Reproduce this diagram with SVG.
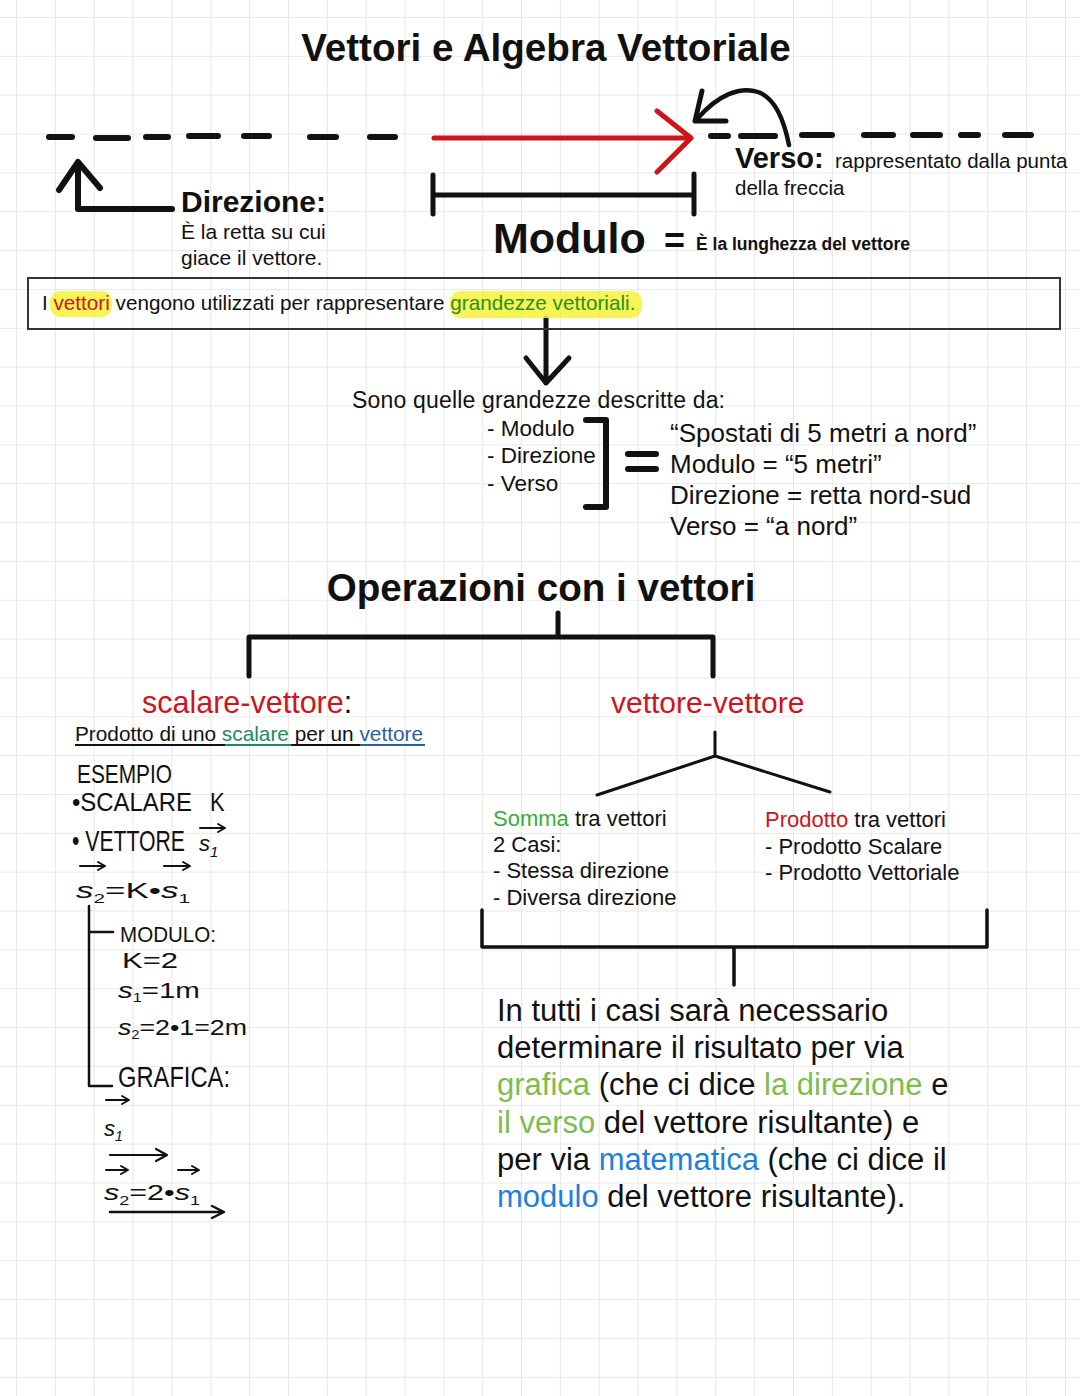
<svg xmlns="http://www.w3.org/2000/svg" width="1080" height="1396" viewBox="0 0 1080 1396">
<defs>
<pattern id="grid" x="16" y="17" width="38.85" height="38.85" patternUnits="userSpaceOnUse">
<path d="M0 0 H38.85 M0 0 V38.85" fill="none" stroke="#e2e2e2" stroke-width="1.6"/>
</pattern>
<style>
.t{font-family:"Liberation Sans",Arial,sans-serif;fill:#111}
.b{font-weight:bold}
.hw{font-family:"Liberation Sans",Arial,sans-serif;fill:#111;font-size:22px}
.k{fill:none;stroke:#111;stroke-linecap:round;stroke-linejoin:round}
.red{fill:#d0141c}
.grn{fill:#2f8f1f}
.lg{fill:#7cbd4d}
.blu{fill:#1f7fe0}
</style>
</defs>
<rect width="1080" height="1396" fill="#ffffff"/>
<rect width="1080" height="1396" fill="url(#grid)"/>

<g id="title">
<text class="t b" x="546" y="61" font-size="38.6" text-anchor="middle">Vettori e Algebra Vettoriale</text>
</g>

<g id="connectors">
<path class="k" stroke-width="6" d="M49 137H72 M96 138H128 M146 137H168 M189 136H218 M244 136H269 M310 137H336 M370 137H395"/>
<path class="k" stroke-width="6" d="M711 136H728 M741 136H775 M802 135H832 M864 135H893 M913 135H940 M961 135H978 M1005 135H1031"/>
<path fill="none" stroke="#d0141c" stroke-width="5" stroke-linecap="round" stroke-linejoin="round" d="M434 138H690 M657 111L691 138L657 172"/>
<path class="k" stroke-width="4.5" d="M789 145C784 120 775 98 758 92C740 86 718 95 698 118"/>
<path class="k" stroke-width="5" d="M702 91L695 121L726 121"/>
<path class="k" stroke-width="5" d="M433 175V214 M433 195H694 M694 174V214"/>
<path class="k" stroke-width="6" d="M78 162V209H172 M59 190L78 162L100 188"/>
<path class="k" stroke-width="5" d="M546 318V383 M526 358L546 383L569 358"/>
<path class="k" stroke-width="6" d="M586 420H606V507H586"/>
<path class="k" stroke-width="6" d="M628 454H656 M628 469H656"/>
<path class="k" stroke-width="5" d="M558 613V634 M249 637H713 M249 637V676 M713 637V676" stroke-linecap="butt"/>
<path class="k" stroke-width="3" d="M715 732V756 M715 756L597 795 M715 756L830 792"/>
<path class="k" stroke-width="3.5" d="M482 910V947H987V910 M734 947V985" stroke-linecap="butt"/>
<path class="k" stroke-width="2.5" d="M89 906V1086H112 M89 932H113"/>
<path class="k" stroke-width="2.2" d="M110 1155H166 M156 1149L167 1155L156 1161"/>
<path class="k" stroke-width="2.5" d="M110 1212H223 M212 1206L224 1212L212 1218"/>
</g>

<g id="direzione">
<text class="t b" x="181" y="212" font-size="30">Direzione:</text>
<text class="t" x="181" y="239" font-size="21">È la retta su cui</text>
<text class="t" x="181" y="265" font-size="21">giace il vettore.</text>
</g>

<g id="verso">
<text class="t b" x="735" y="168" font-size="29">Verso:</text>
<text class="t" x="835" y="168" font-size="20.5">rappresentato dalla punta</text>
<text class="t" x="735" y="195" font-size="20.5">della freccia</text>
</g>

<g id="modulo">
<text class="t b" x="493" y="253" font-size="43">Modulo</text>
<text class="t b" x="664" y="253" font-size="36">=</text>
<text class="t b" x="696" y="250" font-size="17.5">È la lunghezza del vettore</text>
</g>

<g id="box">
<rect x="28" y="278" width="1032" height="51" fill="none" stroke="#333" stroke-width="2"/>
<rect x="50" y="291" width="62" height="26" rx="11" fill="#f4f23a" opacity="0.85"/>
<rect x="450" y="291" width="192" height="27" rx="11" fill="#f4f23a" opacity="0.85"/>
<text class="t" x="42" y="310" font-size="20.7">I <tspan class="red">vettori</tspan> vengono utilizzati per rappresentare <tspan class="grn">grandezze vettoriali.</tspan></text>
</g>

<g id="grandezze">
<text class="t" x="352" y="408" font-size="23" textLength="373">Sono quelle grandezze descritte da:</text>
<text class="t" x="487" y="436" font-size="22.5">- Modulo</text>
<text class="t" x="487" y="463" font-size="22.5">- Direzione</text>
<text class="t" x="487" y="491" font-size="22.5">- Verso</text>
</g>

<g id="esempio-vettore">
<text class="t" x="670" y="442" font-size="26">“Spostati di 5 metri a nord”</text>
<text class="t" x="670" y="473" font-size="26">Modulo = “5 metri”</text>
<text class="t" x="670" y="504" font-size="26">Direzione = retta nord-sud</text>
<text class="t" x="670" y="535" font-size="26">Verso = “a nord”</text>
</g>

<g id="operazioni">
<text class="t b" x="541" y="601" font-size="38.6" text-anchor="middle">Operazioni con i vettori</text>
</g>

<g id="scalare-vettore">
<text class="t" x="142" y="713" font-size="30.5"><tspan class="red">scalare-vettore</tspan>:</text>
<text class="t" x="75" y="741" font-size="20.8">Prodotto di uno <tspan fill="#1f8a5c">scalare</tspan> per un <tspan fill="#2b5fa5">vettore</tspan></text>
<path d="M75 745H225" stroke="#111" stroke-width="2"/>
<path d="M225 745H291" stroke="#1f8a5c" stroke-width="2"/>
<path d="M291 745H360" stroke="#111" stroke-width="2"/>
<path d="M360 745H425" stroke="#2b5fa5" stroke-width="2"/>
</g>

<g id="esempio-scalare">
<text class="hw" transform="translate(77,783) scale(1,1.2)" font-size="19" textLength="95" lengthAdjust="spacingAndGlyphs">ESEMPIO</text>
<text class="hw" transform="translate(72,811) scale(1,1.2)" font-size="19" textLength="120" lengthAdjust="spacingAndGlyphs">•SCALARE</text>
<text class="hw" transform="translate(210,811) scale(1,1.2)" font-size="19">K</text>
<text class="hw" transform="translate(72,851) scale(1,1.3)" textLength="113" lengthAdjust="spacingAndGlyphs">• VETTORE</text>
<text class="hw" x="199" y="851" font-style="italic" font-size="28">s<tspan font-size="15" dy="6">1</tspan></text>
<path class="k" stroke-width="2" d="M200 828H224 M218 824L225 828L218 832"/>
<text class="hw" x="76" y="898" font-size="26" textLength="114" lengthAdjust="spacingAndGlyphs"><tspan font-style="italic">s</tspan><tspan font-size="13" dy="5">2</tspan><tspan dy="-5">=K•</tspan><tspan font-style="italic">s</tspan><tspan font-size="13" dy="5">1</tspan></text>
<path class="k" stroke-width="2" d="M80 866H104 M98 862L105 866L98 870 M164 866H189 M183 862L190 866L183 870"/>
<text class="hw" x="120" y="942" font-size="20" textLength="96" lengthAdjust="spacingAndGlyphs">MODULO:</text>
<text class="hw" x="122" y="968" font-size="19" textLength="56" lengthAdjust="spacingAndGlyphs">K=2</text>
<text class="hw" x="118" y="998" font-size="22" textLength="82" lengthAdjust="spacingAndGlyphs"><tspan font-style="italic">s</tspan><tspan font-size="12" dy="4">1</tspan><tspan dy="-4">=1m</tspan></text>
<text class="hw" x="118" y="1035" font-size="22" textLength="129" lengthAdjust="spacingAndGlyphs"><tspan font-style="italic">s</tspan><tspan font-size="12" dy="4">2</tspan><tspan dy="-4">=2•1=2m</tspan></text>
<text class="hw" transform="translate(118,1087) scale(1,1.3)" font-size="19" textLength="112" lengthAdjust="spacingAndGlyphs">GRAFICA:</text>
<text class="hw" x="104" y="1136" font-size="28" font-style="italic">s<tspan font-size="14" dy="5">1</tspan></text>
<path class="k" stroke-width="2" d="M106 1100H128 M122 1096L129 1100L122 1104"/>
<text class="hw" x="104" y="1200" font-size="25" textLength="96" lengthAdjust="spacingAndGlyphs"><tspan font-style="italic">s</tspan><tspan font-size="13" dy="5">2</tspan><tspan dy="-5">=2•</tspan><tspan font-style="italic">s</tspan><tspan font-size="13" dy="5">1</tspan></text>
<path class="k" stroke-width="2" d="M106 1170H127 M121 1166L128 1170L121 1174 M178 1170H198 M192 1166L199 1170L192 1174"/>
</g>

<g id="vettore-vettore">
<text class="t red" x="611" y="713" font-size="30">vettore-vettore</text>
</g>

<g id="somma">
<text class="t" x="493" y="826" font-size="22"><tspan fill="#3aab3a">Somma</tspan> tra vettori</text>
<text class="t" x="493" y="852" font-size="22">2 Casi:</text>
<text class="t" x="493" y="878" font-size="22">- Stessa direzione</text>
<text class="t" x="493" y="905" font-size="22">- Diversa direzione</text>
</g>

<g id="prodotto">
<text class="t" x="765" y="827" font-size="22"><tspan class="red">Prodotto</tspan> tra vettori</text>
<text class="t" x="765" y="854" font-size="22">- Prodotto Scalare</text>
<text class="t" x="765" y="880" font-size="22">- Prodotto Vettoriale</text>
</g>

<g id="conclusione">
<text class="t" x="497" y="1021" font-size="31">In tutti i casi sarà necessario</text>
<text class="t" x="497" y="1058" font-size="31">determinare il risultato per via</text>
<text class="t" x="497" y="1095" font-size="31"><tspan class="lg">grafica</tspan> (che ci dice <tspan class="lg">la direzione</tspan> e</text>
<text class="t" x="497" y="1133" font-size="31"><tspan class="lg">il verso</tspan> del vettore risultante) e</text>
<text class="t" x="497" y="1170" font-size="31">per via <tspan class="blu">matematica</tspan> (che ci dice il</text>
<text class="t" x="497" y="1207" font-size="31"><tspan class="blu">modulo</tspan> del vettore risultante).</text>
</g>
</svg>
